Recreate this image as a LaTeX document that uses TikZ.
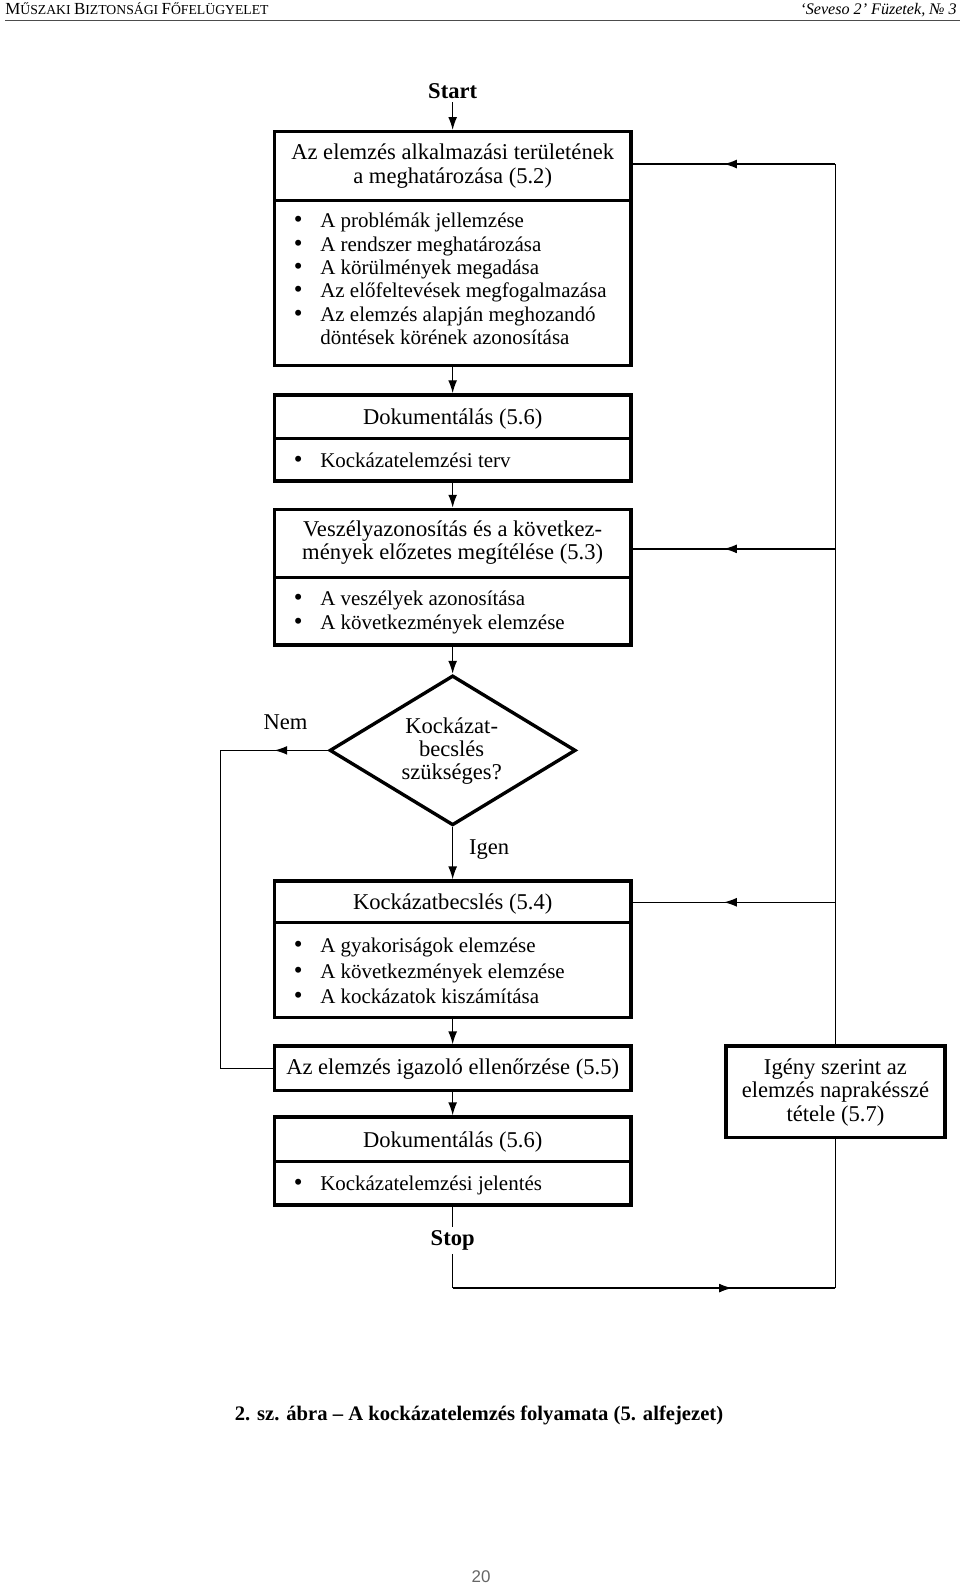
\documentclass[tikz,border=0pt]{standalone}
\usepackage{fontspec}
\setmainfont{Liberation Serif}
\setsansfont{Liberation Sans}
\usetikzlibrary{arrows.meta,shapes.geometric,fit,decorations.markings}
\newcommand\pxu{0.628pt}
\newcommand\bul{\makebox[16.3pt][l]{\fontsize{15.5pt}{14pt}\selectfont\textbullet}}
\begin{document}
\begin{tikzpicture}[x=0.628pt,y=-0.628pt,
  txt/.style={font=\fontsize{14pt}{14.3pt}\selectfont, inner sep=0pt},
  bold/.style={font=\fontsize{14pt}{14.3pt}\selectfont\bfseries, inner sep=2pt},
  item/.style={font=\fontsize{13pt}{14.3pt}\selectfont, inner sep=0pt, anchor=base west},
  ctr/.style={txt, anchor=base},
  box/.style={draw, line width=2.1pt, inner sep=0pt},
  divider/.style={line width=2.1pt},
  conn/.style={line width=0.8pt},
  arr/.style={conn, -{Latex[length=8pt,width=5.5pt]}},
  midarr/.style={conn, postaction={decorate}, decoration={markings, mark=at position #1 with {\arrow{Latex[length=8pt,width=5.5pt]}}}}
]
\fill[white] (0,0) rectangle (948,1565.2);
\useasboundingbox (0,0) rectangle (948,1565.2);

% header
\node[anchor=base west, inner sep=0pt, font=\fontsize{10.5pt}{12pt}\selectfont] (hl) at (5,14) {M\fontsize{8.5pt}{10pt}\selectfont ŰSZAKI \fontsize{10.5pt}{12pt}\selectfont B\fontsize{8.5pt}{10pt}\selectfont IZTONSÁGI \fontsize{10.5pt}{12pt}\selectfont F\fontsize{8.5pt}{10pt}\selectfont ŐFELÜGYELET};
\node[anchor=base east, inner sep=0pt, font=\fontsize{10pt}{12pt}\selectfont\itshape] (hr) at (945,14) {‘Seveso 2’ Füzetek, № 3};
\draw[line width=0.9pt, black!70] (5,20) -- (948,20);

% boxes
\node[box, fit={(271,130) (623,361)}] (b1) {};
\draw[divider] (271,198) -- (623,198);
\node[box, fit={(271,390) (623,475)}] (b2) {};
\draw[divider] (271,433) -- (623,433);
\node[box, fit={(271,503) (623,637)}] (b3) {};
\draw[divider] (271,570) -- (623,570);
\node[draw, line width=2.1pt, diamond, inner sep=0pt, minimum width=243*\pxu, minimum height=148*\pxu] (d) at (447,741) {};
\node[box, fit={(271,870) (623,1005)}] (b4) {};
\draw[divider] (271,911) -- (623,911);
\node[box, fit={(271,1033) (623,1077)}] (b5) {};
\node[box, fit={(271,1103) (623,1190)}] (b6) {};
\draw[divider] (271,1147) -- (623,1147);
\node[box, fit={(717,1033) (933,1123)}] (b7) {};

% texts
\node[bold] (start) at (447,90) {Start};
\node[ctr] (b1t1) at (447,158) {Az elemzés alkalmazási területének};
\node[ctr] (b1t2) at (447,181) {a meghatározása (5.2)};
\node[item] (b1i1) at (290,225) {\bul A problémák jellemzése};
\node[item] (b1i2) at (290,248) {\bul A rendszer meghatározása};
\node[item] (b1i3) at (290,271) {\bul A körülmények megadása};
\node[item] (b1i4) at (290,294) {\bul Az előfeltevések megfogalmazása};
\node[item] (b1i5) at (290,317) {\bul Az elemzés alapján meghozandó};
\node[item] (b1i6) at (316,340) {döntések körének azonosítása};

\node[ctr] (b2t) at (447,419) {Dokumentálás (5.6)};
\node[item] (b2i1) at (290,462) {\bul Kockázatelemzési terv};

\node[ctr] (b3t1) at (447,530) {Veszélyazonosítás és a következ-};
\node[ctr] (b3t2) at (447,553) {mények előzetes megítélése (5.3)};
\node[item] (b3i1) at (290,598) {\bul A veszélyek azonosítása};
\node[item] (b3i2) at (290,622) {\bul A következmények elemzése};

\node[ctr] (dt1) at (446,724) {Kockázat-};
\node[ctr] (dt2) at (446,747) {becslés};
\node[ctr] (dt3) at (446,770) {szükséges?};
\node[ctr] (nem) at (282,720) {Nem};
\node[ctr] (igen) at (483,844) {Igen};

\node[ctr] (b4t) at (447,898) {Kockázatbecslés (5.4)};
\node[item] (b4i1) at (290,941) {\bul A gyakoriságok elemzése};
\node[item] (b4i2) at (290,966) {\bul A következmények elemzése};
\node[item] (b4i3) at (290,991) {\bul A kockázatok kiszámítása};

\node[ctr] (b5t) at (447,1061) {Az elemzés igazoló ellenőrzése (5.5)};

\node[ctr] (b6t) at (447,1133) {Dokumentálás (5.6)};
\node[item] (b6i1) at (290,1176) {\bul Kockázatelemzési jelentés};

\node[ctr] (b7t1) at (825,1061) {Igény szerint az};
\node[ctr] (b7t2) at (825,1084) {elemzés naprakésszé};
\node[ctr] (b7t3) at (825,1107) {tétele (5.7)};

\node[bold] (stop) at (447,1225) {Stop};

\node[anchor=base, inner sep=0pt, font=\fontsize{12.8pt}{14.3pt}\selectfont\bfseries] (cap) at (473,1403) {2. sz. ábra – A kockázatelemzés folyamata (5. alfejezet)};
\node[anchor=base, inner sep=0pt, text=black!60, font=\sffamily\fontsize{10.5pt}{12pt}\selectfont] (pg) at (475,1563) {20};

% coordinates
\coordinate (nemc) at (218,741);
\coordinate (r1) at (825,162);
\coordinate (r2) at (825,542);
\coordinate (r3) at (825,891);
\coordinate (r4) at (825,1272);

% connectors
\draw[arr] (start) -- (b1);
\draw[arr] (b1) -- (b2);
\draw[arr] (b2) -- (b3);
\draw[arr] (b3) -- (d);
\draw[arr] (d) -- (b4);
\draw[arr] (b4) -- (b5);
\draw[arr] (b5) -- (b6);
\draw[conn] (b6) -- (stop);

\draw[midarr=0.5] (d.west) -- (nemc);
\draw[conn] (nemc) |- (b5.west);

\draw[conn] (b7.north) -- (r1);
\draw[midarr=0.55] (r1) -- (b1.east |- r1);
\draw[midarr=0.55] (r2) -- (b3.east |- r2);
\draw[midarr=0.55] (r3) -- (b4.east |- r3);

\draw[conn] (stop.south) -- (stop.south |- r4);
\draw[midarr=0.73] (stop.south |- r4) -- (r4);
\draw[conn] (r4) -- (b7.south);
\end{tikzpicture}
\end{document}
